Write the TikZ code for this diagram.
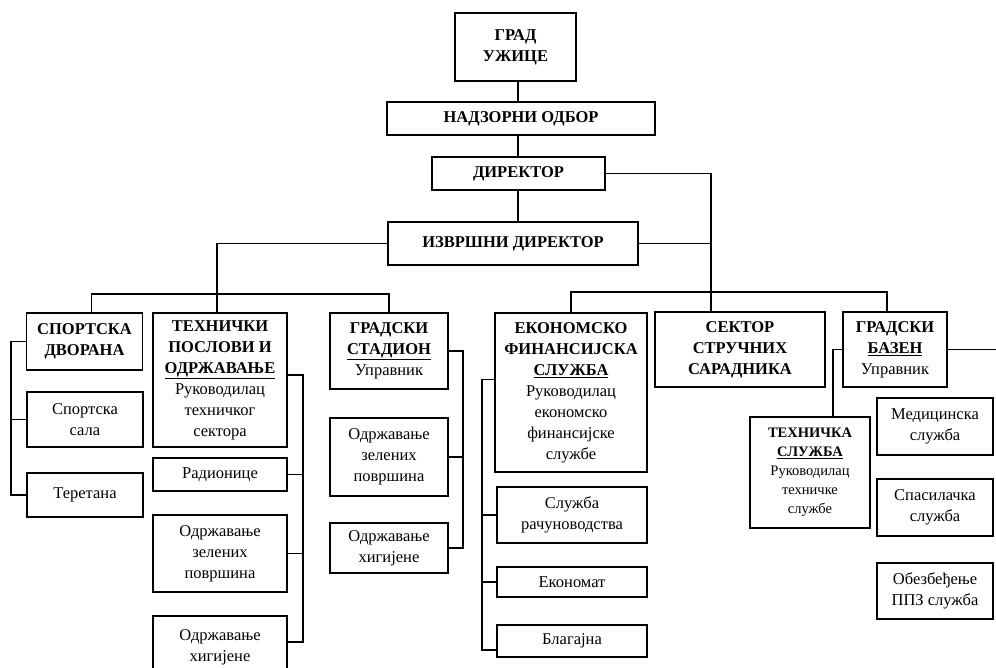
\documentclass[tikz,border=0pt]{standalone}
\usepackage{fontspec}
\setmainfont{Liberation Serif}

\begin{document}
\begin{tikzpicture}[x=1pt,y=-1pt,
every node/.style={anchor=center,
draw,
line width=1.5pt,
align=center,
inner sep=2pt,
font=\fontsize{16.5}{21}\selectfont
},
sport/.style={minimum width=116pt},
tech/.style={minimum width=134pt},
stad/.style={minimum width=118pt},
fin/.style={minimum width=150pt},
pool/.style={minimum width=116pt},
smalltext/.style={font=\fontsize{14.5}{19}\selectfont},
wire/.style={line width=1.2pt}]
\useasboundingbox (0,0) rectangle (996,668);
\clip (0,0) rectangle (996,668);
% top of the chart
\node[minimum width=121pt,minimum height=68pt]at(515.5,47)(grad){\textbf{ГРАД}\\\textbf{УЖИЦЕ}};
\node[minimum width=268pt,minimum height=33pt]at(521,118.5)(nadzor){\textbf{НАДЗОРНИ ОДБОР}};
\node[minimum width=173pt,minimum height=33pt]at(518.5,173.5)(dir){\textbf{ДИРЕКТОР}};
\node[minimum width=250pt,minimum height=43pt]at(513,243.5)(izvr){\textbf{ИЗВРШНИ ДИРЕКТОР}};
% left side
\node[sport,minimum height=57pt]at(84.5,341.5)(dvorana){\textbf{СПОРТСКА}\\\textbf{ДВОРАНА}};
\node[sport,minimum height=55pt]at(85,419.5)(sala){Спортска\\сала};
\node[sport,minimum height=44pt]at(85,495)(teretana){Теретана};
\node[tech,minimum height=134pt]at(220,380)(tehposl){\textbf{ТЕХНИЧКИ}\\\textbf{ПОСЛОВИ И}\\\textbf{\underline{ОДРЖАВАЊЕ}}\\Руководилац\\техничког\\сектора};
\node[tech,minimum height=33pt]at(220,474.5)(radion){Радионице};
\node[tech,minimum height=77pt]at(220,553.5)(zel1){Одржавање\\зелених\\површина};
\node[tech,minimum height=62pt]at(220,647)(hig1){Одржавање\\хигијене};
\node[stad,minimum height=76pt]at(389,351)(stadion){\textbf{ГРАДСКИ}\\\textbf{\underline{СТАДИОН}}\\Управник};
\node[stad,minimum height=78pt]at(389,457)(zel2){Одржавање\\зелених\\површина};
\node[stad,minimum height=50pt]at(389,548)(hig2){Одржавање\\хигијене};
% right side
\node[minimum width=152pt,minimum height=159pt]at(571,392.5)(ekon){\textbf{ЕКОНОМСКО}\\\textbf{ФИНАНСИЈСКА}\\\textbf{\underline{СЛУЖБА}}\\Руководилац\\економско\\финансијске\\службе};
\node[fin,minimum height=56pt]at(572,515)(racun){Служба\\рачуноводства};
\node[fin,minimum height=30pt]at(572,582)(ekonomat){Економат};
\node[fin,minimum height=32pt]at(572,641)(blagajna){Благајна};
\node[minimum width=170pt,minimum height=75pt]at(740,349.5)(sektor){\textbf{СЕКТОР}\\\textbf{СТРУЧНИХ}\\\textbf{САРАДНИКА}};
\node[minimum width=104pt,minimum height=75pt]at(895,349.5)(bazen){\textbf{ГРАДСКИ}\\\textbf{\underline{БАЗЕН}}\\Управник};
\node[smalltext,minimum width=120pt,minimum height=111pt]at(810,472.5)(tehsl){\textbf{ТЕХНИЧКА}\\\textbf{\underline{СЛУЖБА}}\\Руководилац\\техничке\\службе};
\node[pool,minimum height=57pt]at(935,426.5)(medic){Медицинска\\служба};
\node[pool,minimum height=57pt]at(935,507.5)(spas){Спасилачка\\служба};
\node[pool,minimum height=56pt]at(935,591)(obezb){Обезбеђење\\ППЗ служба};
% x and y of the lines
\coordinate (cx) at (518,0);
\coordinate (lb) at (0,294);
\coordinate (rb) at (0,292);
\coordinate (rv) at (711,0);
\coordinate (b1) at (11,0);
\coordinate (b2) at (303,0);
\coordinate (b3) at (463,0);
\coordinate (b4) at (482,0);
\coordinate (bv) at (833,0);
\coordinate (rend) at (1000,0);
\draw[wire] (grad.south -| cx) -- (nadzor.north -| cx);
\draw[wire] (nadzor.south -| cx) -- (dir.north -| cx);
\draw[wire] (dir.south -| cx) -- (izvr.north -| cx);
\draw[wire] (dir.east) -| (sektor.north -| rv);
\draw[wire] (izvr.east) -- (izvr.east -| rv);
\draw[wire] (ekon.north) |- ([xshift=-8pt]bazen.north |- rb) -- ([xshift=-8pt]bazen.north);
\draw[wire] (izvr.west) -| ([xshift=-3pt]tehposl.north);
\draw[wire] ([xshift=7pt]dvorana.north) |- (stadion.north |- lb) -- (stadion.north);
\draw[wire] (dvorana.west) -| (teretana.west -| b1) -- (teretana.west);
\draw[wire] (sala.west) -- (sala.west -| b1);
\draw[wire] ([yshift=5pt]tehposl.east) -| ([yshift=5pt]hig1.east -| b2) -- ([yshift=5pt]hig1.east);
\draw[wire] (radion.east) -- (radion.east -| b2);
\draw[wire] (zel1.east) -- (zel1.east -| b2);
\draw[wire] (stadion.east) -| (hig2.east -| b3) -- (hig2.east);
\draw[wire] (zel2.east) -- (zel2.east -| b3);
\draw[wire] ([yshift=13pt]ekon.west) -| ([yshift=-9pt]blagajna.west -| b4) -- ([yshift=-9pt]blagajna.west);
\draw[wire] (racun.west) -- (racun.west -| b4);
\draw[wire] (ekonomat.west) -- (ekonomat.west -| b4);
\draw[wire] (bazen.west) -| (tehsl.north -| bv);
\draw[wire] (bazen.east) -- (bazen.east -| rend);
\end{tikzpicture}
\end{document}
